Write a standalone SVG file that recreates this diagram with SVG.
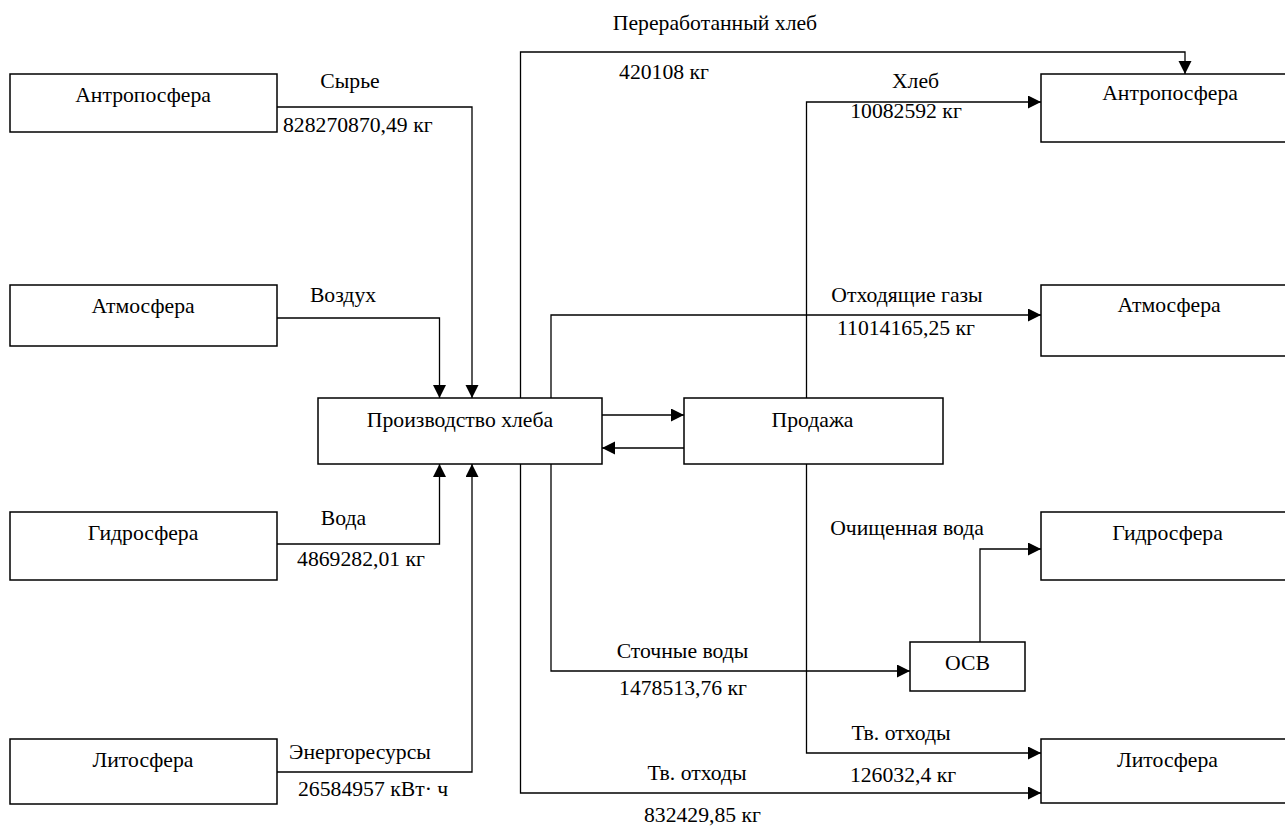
<svg xmlns="http://www.w3.org/2000/svg" width="1285" height="826" viewBox="0 0 1285 826">
<style>
.box{fill:#fff;stroke:#000;stroke-width:1.5}
.ln{fill:none;stroke:#000;stroke-width:1.3}
.arr{marker-end:url(#ah)}
text{font-family:'Liberation Serif','Times New Roman',serif;font-size:21.7px;fill:#000}
.c{text-anchor:middle}
</style>
<defs>
<marker id="ah" markerUnits="userSpaceOnUse" markerWidth="14" markerHeight="14" refX="13" refY="6.5" orient="auto">
<path d="M0,0 L13,6.5 L0,13 z" fill="#000"/>
</marker>
</defs>
<rect width="1285" height="826" fill="#fff"/>
<g id="connectors">
<polyline class="ln arr" points="277,107 472,107 472,398"/>
<polyline class="ln arr" points="277,318 439.5,318 439.5,398"/>
<polyline class="ln arr" points="277,544 439.5,544 439.5,464"/>
<polyline class="ln arr" points="277,772 472,772 472,464"/>
<polyline class="ln arr" points="520.5,398 520.5,52 1185,52 1185,74"/>
<polyline class="ln arr" points="551,398 551,315 1041,315"/>
<polyline class="ln arr" points="806.5,398 806.5,102 1041,102"/>
<line class="ln arr" x1="602" y1="415" x2="684" y2="415"/>
<line class="ln arr" x1="684" y1="448" x2="602" y2="448"/>
<polyline class="ln arr" points="551,464 551,671 910,671"/>
<polyline class="ln arr" points="980,642 980,549 1041,549"/>
<polyline class="ln arr" points="806.5,464 806.5,753 1041,753"/>
<polyline class="ln arr" points="520.5,464 520.5,793 1041,793"/>
</g>
<g id="labels">
<text x="350" y="88" class="c">Сырье</text>
<text x="283" y="132">828270870,49 кг</text>
<text x="343" y="302" class="c">Воздух</text>
<text x="343.5" y="525" class="c">Вода</text>
<text x="361" y="566" class="c">4869282,01 кг</text>
<text x="360" y="759" class="c">Энергоресурсы</text>
<text x="298" y="796">26584957 кВт·  ч</text>
<text x="715" y="30" class="c">Переработанный хлеб</text>
<text x="664" y="79" class="c">420108 кг</text>
<text x="915.5" y="88" class="c">Хлеб</text>
<text x="906" y="118" class="c">10082592 кг</text>
<text x="907" y="302" class="c">Отходящие газы</text>
<text x="906" y="335" class="c">11014165,25 кг</text>
<text x="907" y="535" class="c">Очищенная вода</text>
<text x="682.5" y="658" class="c">Сточные воды</text>
<text x="683" y="695" class="c">1478513,76 кг</text>
<text x="901" y="740" class="c">Тв. отходы</text>
<text x="903" y="782" class="c">126032,4 кг</text>
<text x="697" y="780" class="c">Тв. отходы</text>
<text x="702.5" y="822" class="c">832429,85 кг</text>
</g>
<g id="n-antro-in"><rect class="box" x="10" y="74" width="267" height="58"/><text x="143" y="102" class="c">Антропосфера</text></g>
<g id="n-atmo-in"><rect class="box" x="10" y="285" width="267" height="61"/><text x="143" y="313" class="c">Атмосфера</text></g>
<g id="n-hydro-in"><rect class="box" x="10" y="512" width="267" height="68"/><text x="143" y="540" class="c">Гидросфера</text></g>
<g id="n-litho-in"><rect class="box" x="10" y="739" width="267" height="65"/><text x="143" y="767" class="c">Литосфера</text></g>
<g id="n-production"><rect class="box" x="318" y="398" width="284" height="66"/><text x="460" y="427" class="c">Производство хлеба</text></g>
<g id="n-sale"><rect class="box" x="684" y="398" width="259" height="66"/><text x="812.5" y="427" class="c">Продажа</text></g>
<g id="n-osv"><rect class="box" x="910" y="642" width="115" height="49"/><text x="967.5" y="670" class="c">ОСВ</text></g>
<g id="n-antro-out"><rect class="box" x="1041" y="74" width="260" height="68"/><text x="1170" y="100" class="c">Антропосфера</text></g>
<g id="n-atmo-out"><rect class="box" x="1041" y="285" width="260" height="71"/><text x="1169" y="312" class="c">Атмосфера</text></g>
<g id="n-hydro-out"><rect class="box" x="1041" y="512" width="260" height="68"/><text x="1167.5" y="540" class="c">Гидросфера</text></g>
<g id="n-litho-out"><rect class="box" x="1041" y="739" width="260" height="64"/><text x="1167.5" y="767" class="c">Литосфера</text></g>
</svg>
